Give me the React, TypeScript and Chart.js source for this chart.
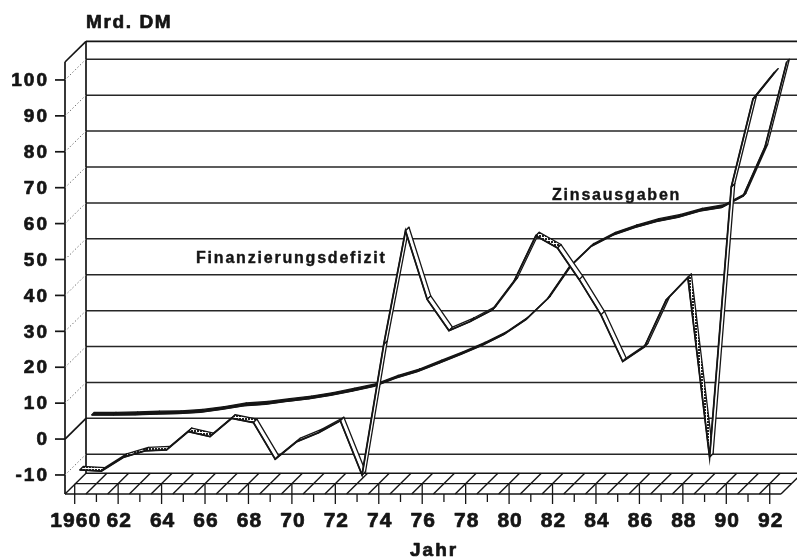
import { useEffect, useRef } from "react";
import { Chart, registerables } from "chart.js";

Chart.register(...registerables);

// ---------------- data ----------------
const years = [
  1960, 1961, 1962, 1963, 1964, 1965, 1966, 1967, 1968, 1969, 1970,
  1971, 1972, 1973, 1974, 1975, 1976, 1977, 1978, 1979, 1980,
  1981, 1982, 1983, 1984, 1985, 1986, 1987, 1988, 1989, 1990, 1991, 1992,
];
const finanzierungsdefizit = [
  -10.0, -10.3, -6.5, -4.7, -4.4, 0.7, -0.7, 4.4, 3.2, -7.0, -2.1,
  0.4, 3.7, -11.4, 25.0, 56.6, 37.5, 28.8, 31.4, 34.6, 42.6,
  55.2, 51.8, 43.0, 33.2, 20.2, 24.3, 37.3, 43.6, -6.4, 68.8, 93.3, 100.8,
];
const zinsausgaben = [
  2.0, 2.0, 2.1, 2.3, 2.4, 2.8, 3.6, 4.6, 5.0, 5.8, 6.5,
  7.5, 8.7, 10.0, 12.3, 14.1, 16.5, 18.9, 21.5, 24.5, 28.6,
  34.4, 43.2, 49.0, 52.1, 54.2, 55.9, 57.1, 58.8, 59.8, 63.0, 76.6, 100.3,
];
const yTickValues = [-10, 0, 10, 20, 30, 40, 50, 60, 70, 80, 90, 100];
const xTickYears = [1960, 1962, 1964, 1966, 1968, 1970, 1972, 1974, 1976, 1978, 1980, 1982, 1984, 1986, 1988, 1990, 1992];
const xTickLabels = ["1960", "62", "64", "66", "68", "70", "72", "74", "76", "78", "80", "82", "84", "86", "88", "90", "92"];
const seriesNames = ["Finanzierungsdefizit", "Zinsausgaben"];
const yAxisTitle = "Mrd. DM";
const xAxisTitle = "Jahr";

// ---------------- layout / style ----------------
const W = 797;
const H = 557;
const INK = "#151515";
const BACK = { dx: 21, dy: -20.7 };
const SERIES_OFFSET = [
  { dx: 5, dy: -5 },
  { dx: 17, dy: -17 },
];
const RIBBON = [
  { dx: 3.5, dy: -3.5 },
  { dx: 2.6, dy: -2.6 },
];
const LABEL_FONT = "bold 19px 'Liberation Sans', Arial, sans-serif";
const XLABEL_FONT = "bold 21px 'Liberation Sans', Arial, sans-serif";
const SERIES_FONT = "bold 16px 'Liberation Sans', Arial, sans-serif";

let hatchPattern: CanvasPattern | null = null;
function getHatch(ctx: CanvasRenderingContext2D) {
  if (hatchPattern) return hatchPattern;
  const c = document.createElement("canvas");
  c.width = 3;
  c.height = 3;
  const g = c.getContext("2d")!;
  g.fillStyle = "#ffffff";
  g.fillRect(0, 0, 3, 3);
  g.fillStyle = "#222";
  g.fillRect(0, 0, 2, 2);
  hatchPattern = ctx.createPattern(c, "repeat");
  return hatchPattern;
}

function line(ctx: CanvasRenderingContext2D, x1: number, y1: number, x2: number, y2: number) {
  ctx.beginPath();
  ctx.moveTo(x1, y1);
  ctx.lineTo(x2, y2);
  ctx.stroke();
}

function heavyText(ctx: CanvasRenderingContext2D, txt: string, x: number, y: number) {
  ctx.fillText(txt, x, y);
  ctx.strokeText(txt, x, y);
}

const framePlugin = {
  id: "frame3d",
  beforeDatasetsDraw(chart: any) {
    const ctx: CanvasRenderingContext2D = chart.ctx;
    const xs = chart.scales.x;
    const ys = chart.scales.y;
    const { left, top, bottom } = chart.chartArea;
    const bx = left + BACK.dx;
    ctx.save();
    ctx.strokeStyle = INK;
    ctx.lineCap = "butt";

    // back gridlines
    ctx.lineWidth = 1.5;
    ctx.strokeStyle = "#262626";
    for (const v of yTickValues) {
      const y = ys.getPixelForValue(v) + BACK.dy;
      line(ctx, bx, y, W, y);
    }
    // top back edge
    ctx.strokeStyle = INK;
    ctx.lineWidth = 1.7;
    line(ctx, bx, top + BACK.dy, W, top + BACK.dy);
    // left wall
    line(ctx, left, top, left, bottom);
    line(ctx, bx, top + BACK.dy, bx, bottom + BACK.dy);
    line(ctx, left, top, bx, top + BACK.dy);

    // front ticks and diagonals
    for (const v of yTickValues) {
      const y = ys.getPixelForValue(v);
      ctx.setLineDash([]);
      ctx.strokeStyle = INK;
      ctx.lineWidth = 1.7;
      line(ctx, left - 10, y, left, y);
      if (v === 0) {
        line(ctx, left, y, bx, y + BACK.dy);
      } else {
        ctx.setLineDash([1.5, 2]);
        ctx.strokeStyle = "#777";
        ctx.lineWidth = 1;
        line(ctx, left, y, bx, y + BACK.dy);
      }
    }
    ctx.setLineDash([]);

    // floor
    ctx.strokeStyle = INK;
    ctx.lineWidth = 1.4;
    const fy = bottom;
    const by = bottom + BACK.dy;
    const my = (fy + by) / 2;
    const lastYear = years[years.length - 1] + 1;
    const xr = xs.getPixelForValue(lastYear);
    line(ctx, left, fy, xr - BACK.dx / 2, fy);
    line(ctx, left + BACK.dx / 2, my, xr, my);
    line(ctx, bx, by, W, by);
    line(ctx, left, fy, bx, by);
    for (let yr = years[0] + 1; yr <= lastYear; yr++) {
      const x = xs.getPixelForValue(yr);
      line(ctx, x - BACK.dx / 2, fy, x + BACK.dx / 2, by);
    }
    // ticks under the floor
    ctx.lineWidth = 1.3;
    for (const yr of years) {
      const x = xs.getPixelForValue(yr);
      if (yr % 2 === 0) line(ctx, x, my, x, fy + 10);
      else line(ctx, x, fy, x, fy + 8);
    }
    ctx.restore();
  },
  afterDraw(chart: any) {
    const ctx: CanvasRenderingContext2D = chart.ctx;
    const xs = chart.scales.x;
    const ys = chart.scales.y;
    const { left } = chart.chartArea;
    ctx.save();
    ctx.fillStyle = INK;
    ctx.strokeStyle = INK;
    ctx.lineWidth = 0.7;
    ctx.lineJoin = "round";
    // y labels
    ctx.font = LABEL_FONT;
    (ctx as any).letterSpacing = "2px";
    ctx.textAlign = "right";
    ctx.textBaseline = "middle";
    for (const v of yTickValues) {
      const txt = v < 0 ? "-" + String(-v) : String(v);
      heavyText(ctx, txt, left - 16, ys.getPixelForValue(v) + 1);
    }
    // x labels
    ctx.font = XLABEL_FONT;
    (ctx as any).letterSpacing = "1px";
    ctx.textAlign = "center";
    xTickYears.forEach((yr, i) => {
      heavyText(ctx, xTickLabels[i], xs.getPixelForValue(yr) + 1, 521);
    });
    // titles
    ctx.textAlign = "left";
    ctx.textBaseline = "alphabetic";
    ctx.font = LABEL_FONT;
    (ctx as any).letterSpacing = "1.6px";
    heavyText(ctx, yAxisTitle, 86, 27.5);
    (ctx as any).letterSpacing = "2px";
    heavyText(ctx, xAxisTitle, 410, 556);
    // series labels
    ctx.lineWidth = 0.4;
    ctx.font = SERIES_FONT;
    (ctx as any).letterSpacing = "1.8px";
    heavyText(ctx, seriesNames[0], 196, 262.5);
    heavyText(ctx, seriesNames[1], 552, 199.5);
    ctx.restore();
  },
};

const ribbonPlugin = {
  id: "ribbon",
  beforeDatasetDraw(chart: any, args: any) {
    const ctx: CanvasRenderingContext2D = chart.ctx;
    const idx = args.index;
    const off = SERIES_OFFSET[idx];
    const d = RIBBON[idx];
    ctx.save();
    ctx.translate(off.dx, off.dy);
    const pts = args.meta.data;
    ctx.save();
    ctx.strokeStyle = INK;
    ctx.lineWidth = 1.3;
    ctx.lineJoin = "round";
    for (let i = 0; i < pts.length - 1; i++) {
      const a = pts[i];
      const b = pts[i + 1];
      const slope = (b.y - a.y) / (b.x - a.x);
      let fill: any = "#ffffff";
      if (idx === 0 && ((slope > -0.3 && slope < 1.2) || slope > 6)) fill = getHatch(ctx);
      if (idx === 1 && Math.abs(slope) < 1.6) fill = INK;
      ctx.beginPath();
      ctx.moveTo(a.x, a.y);
      ctx.lineTo(b.x, b.y);
      ctx.lineTo(b.x + d.dx, b.y + d.dy);
      ctx.lineTo(a.x + d.dx, a.y + d.dy);
      ctx.closePath();
      ctx.fillStyle = fill;
      ctx.fill();
      ctx.stroke();
    }
    ctx.restore();
  },
  afterDatasetDraw(chart: any) {
    chart.ctx.restore();
  },
};

const X_MIN = 1959.5534;
const X_MAX = 1993.2555;
const Y_MIN = -15.3;
const Y_MAX = 105;

export default function App() {
  const ref = useRef<HTMLCanvasElement>(null);
  useEffect(() => {
    const chart = new Chart(ref.current!, {
      type: "line",
      data: {
        datasets: [
          {
            label: seriesNames[0],
            data: years.map((y, i) => ({ x: y, y: finanzierungsdefizit[i] })),
            borderColor: INK,
            borderWidth: 1.8,
            pointRadius: 0,
            tension: 0,
            clip: false as any,
          },
          {
            label: seriesNames[1],
            data: years.map((y, i) => ({ x: y, y: zinsausgaben[i] })),
            borderColor: INK,
            borderWidth: 1.8,
            pointRadius: 0,
            tension: 0,
            clip: false as any,
          },
        ],
      },
      options: {
        responsive: false,
        animation: false,
        devicePixelRatio: 1,
        layout: { padding: { left: 65, right: 0, top: 62, bottom: 63 } },
        plugins: { legend: { display: false }, tooltip: { enabled: false } },
        events: [],
        scales: {
          x: { type: "linear", display: false, min: X_MIN, max: X_MAX },
          y: { type: "linear", display: false, min: Y_MIN, max: Y_MAX },
        },
      },
      plugins: [framePlugin, ribbonPlugin],
    });
    return () => chart.destroy();
  }, []);
  return (
    <div style={{ position: "absolute", left: 0, top: 0, width: W, height: H, background: "#fff" }}>
      <canvas ref={ref} width={W} height={H} style={{ display: "block", width: W, height: H }} />
    </div>
  );
}
